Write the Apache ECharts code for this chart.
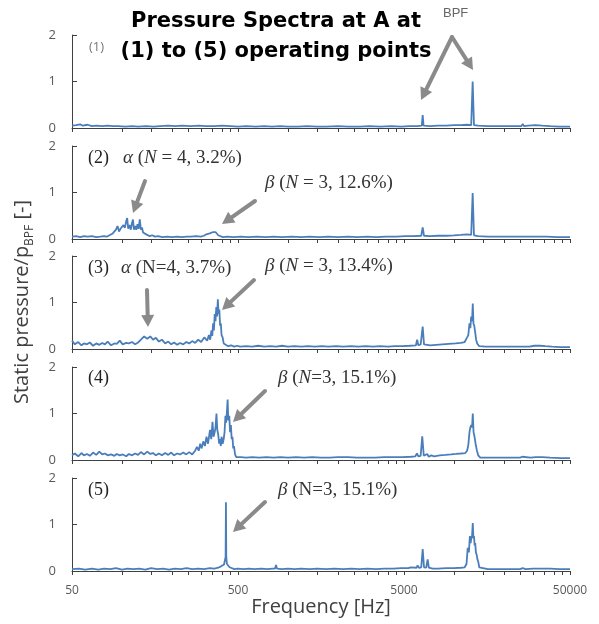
<!DOCTYPE html>
<html><head><meta charset="utf-8">
<script src="https://cdn.jsdelivr.net/npm/echarts@6/dist/echarts.min.js"></script>
<style>html,body{margin:0;padding:0;background:#fff}#c{width:599px;height:624px}</style>
</head><body><div id="c"></div>
<script>
// ---------------- data ----------------
const xMinHz = 50, xMaxHz = 50000;
const xLabelHz = [50, 500, 5000, 50000];
const xTickHz = [50,100,150,200,250,300,350,400,450,
  500,1000,1500,2000,2500,3000,3500,4000,4500,
  5000,10000,15000,20000,25000,30000,35000,40000,45000,50000];
const yTicks = [0, 1, 2];
const panelLabels = ['(1)', '(2)', '(3)', '(4)', '(5)'];

// [frequency Hz, p/p_BPF]
const spectrum1 = [[50,0.05],[53,0.06],[56,0.08],[58,0.05],[62,0.07],[66,0.04],[70,0.05],[76,0.04],[82,0.05],[88,0.04],[95,0.04],[105,0.03],[115,0.04],[125,0.03],[140,0.04],[155,0.03],[170,0.04],[190,0.05],[210,0.04],[230,0.05],[260,0.04],[290,0.05],[320,0.04],[360,0.04],[400,0.05],[450,0.04],[500,0.03],[560,0.04],[640,0.03],[720,0.04],[800,0.03],[900,0.04],[1000,0.03],[1150,0.03],[1300,0.04],[1500,0.03],[1700,0.03],[2000,0.04],[2300,0.03],[2700,0.03],[3100,0.04],[3600,0.03],[4200,0.04],[4800,0.03],[5400,0.04],[6000,0.04],[6400,0.05],[6480,0.28],[6560,0.05],[7200,0.04],[8000,0.05],[9000,0.05],[10000,0.06],[11000,0.06],[12000,0.07],[12700,0.06],[12960,1.0],[13200,0.06],[14000,0.05],[16000,0.04],[18000,0.04],[21000,0.04],[24000,0.04],[25500,0.04],[25950,0.09],[26400,0.04],[28000,0.05],[31000,0.06],[34000,0.05],[38000,0.04],[43000,0.03],[50000,0.03]];

const spectrum2 = [[50,0.05],[53,0.06],[56,0.04],[59,0.06],[62,0.05],[66,0.06],[70,0.04],[74,0.05],[78,0.06],[81,0.05],[84,0.08],[86,0.07],[88,0.12],[90,0.1],[92,0.2],[94,0.28],[96,0.16],[98,0.22],[100,0.18],[102,0.3],[104,0.24],[106,0.38],[107.5,0.45],[109,0.22],[111,0.3],[113,0.2],[115,0.35],[116.5,0.42],[118,0.2],[120,0.28],[122,0.2],[124,0.32],[126,0.22],[128,0.42],[130,0.2],[132,0.25],[134,0.14],[137,0.16],[140,0.1],[143,0.12],[147,0.06],[152,0.08],[158,0.05],[165,0.06],[175,0.04],[188,0.05],[200,0.04],[215,0.05],[230,0.04],[245,0.05],[260,0.05],[280,0.06],[298,0.05],[312,0.07],[322,0.1],[330,0.08],[338,0.12],[346,0.1],[354,0.15],[360,0.13],[366,0.15],[372,0.11],[380,0.08],[390,0.05],[405,0.04],[430,0.05],[470,0.04],[520,0.05],[580,0.04],[650,0.05],[730,0.04],[820,0.05],[920,0.04],[1050,0.05],[1200,0.04],[1350,0.05],[1550,0.04],[1750,0.05],[2000,0.04],[2300,0.05],[2600,0.04],[3000,0.05],[3400,0.04],[3900,0.05],[4500,0.05],[5100,0.06],[5700,0.06],[6350,0.07],[6480,0.25],[6600,0.07],[7200,0.06],[8000,0.07],[9000,0.07],[10000,0.08],[11000,0.09],[12000,0.1],[12700,0.09],[12960,0.99],[13200,0.08],[14000,0.06],[16000,0.05],[19000,0.05],[22000,0.05],[25500,0.05],[25950,0.09],[26400,0.05],[29000,0.05],[32000,0.05],[36000,0.05],[42000,0.04],[50000,0.04]];

const spectrum3 = [[50,0.18],[52,0.1],[54.5,0.15],[57,0.08],[59,0.12],[61.5,0.1],[64,0.14],[67,0.07],[70,0.12],[73,0.09],[76,0.13],[79,0.1],[82,0.16],[86,0.08],[90,0.12],[93,0.11],[97,0.18],[101,0.1],[106,0.13],[110,0.12],[115,0.15],[120,0.1],[125,0.14],[130,0.2],[136,0.27],[142,0.22],[148,0.27],[154,0.2],[160,0.24],[167,0.16],[174,0.2],[182,0.12],[190,0.16],[198,0.1],[206,0.14],[215,0.09],[224,0.13],[234,0.1],[244,0.15],[254,0.12],[265,0.17],[276,0.13],[288,0.2],[300,0.15],[313,0.25],[326,0.18],[334,0.3],[340,0.2],[346,0.4],[350,0.28],[354,0.55],[358,0.4],[362,0.75],[366,0.6],[370,0.9],[374,0.7],[378,1.07],[382,0.75],[386,0.85],[390,0.5],[394,0.55],[398,0.3],[404,0.25],[410,0.12],[418,0.1],[436,0.06],[455,0.08],[474,0.05],[494,0.07],[515,0.05],[560,0.06],[610,0.05],[660,0.07],[720,0.05],[780,0.06],[850,0.05],[920,0.07],[1000,0.05],[1100,0.06],[1200,0.05],[1320,0.06],[1450,0.05],[1600,0.06],[1750,0.05],[1950,0.06],[2150,0.05],[2400,0.06],[2650,0.05],[2950,0.06],[3250,0.05],[3600,0.06],[4000,0.05],[4400,0.06],[4900,0.06],[5400,0.07],[5900,0.08],[6000,0.2],[6100,0.08],[6300,0.1],[6480,0.48],[6600,0.1],[6900,0.09],[7200,0.08],[7800,0.09],[8500,0.1],[9300,0.11],[10200,0.12],[11000,0.13],[11600,0.15],[12000,0.25],[12200,0.3],[12400,0.55],[12550,0.45],[12700,0.7],[12850,0.6],[12980,0.98],[13100,0.55],[13250,0.5],[13430,0.35],[13600,0.2],[13800,0.12],[14200,0.06],[15500,0.05],[17500,0.05],[20000,0.05],[23000,0.05],[25500,0.05],[25950,0.09],[26400,0.05],[28500,0.05],[30500,0.07],[33000,0.07],[35500,0.06],[39000,0.05],[44000,0.04],[50000,0.04]];

const spectrum4 = [[50,0.1],[52,0.14],[54.5,0.08],[57,0.15],[59,0.1],[61.5,0.13],[64,0.09],[67,0.16],[70,0.11],[73,0.18],[76,0.12],[79,0.14],[82,0.1],[86,0.12],[90,0.09],[93,0.13],[97,0.1],[101,0.12],[106,0.08],[110,0.13],[115,0.1],[120,0.14],[125,0.11],[130,0.17],[136,0.12],[142,0.18],[148,0.13],[154,0.15],[160,0.1],[167,0.14],[174,0.1],[182,0.15],[190,0.11],[198,0.16],[206,0.1],[215,0.14],[224,0.12],[234,0.16],[244,0.12],[254,0.17],[265,0.12],[276,0.2],[283,0.28],[290,0.2],[296,0.35],[302,0.25],[309,0.4],[316,0.3],[323,0.5],[330,0.35],[339,0.65],[345,0.45],[351,0.82],[356,0.5],[362,0.6],[366,0.7],[371,1.0],[375,0.65],[380,0.55],[385,0.35],[389,0.45],[394,0.3],[398,0.5],[404,0.35],[410,0.45],[415,0.6],[420,0.95],[424,0.8],[429,1.05],[433,1.3],[437,0.85],[443,0.95],[448,0.6],[453,0.75],[458,0.45],[463,0.5],[468,0.25],[473,0.3],[480,0.12],[488,0.06],[500,0.05],[520,0.06],[560,0.05],[610,0.06],[670,0.05],[740,0.06],[820,0.05],[900,0.06],[1000,0.05],[1120,0.06],[1250,0.05],[1400,0.06],[1580,0.05],[1780,0.05],[2000,0.06],[2300,0.06],[2600,0.05],[2950,0.05],[3350,0.05],[3800,0.06],[4300,0.06],[4900,0.06],[5500,0.07],[5850,0.08],[5980,0.14],[6100,0.08],[6300,0.09],[6440,0.51],[6580,0.09],[6900,0.13],[7050,0.07],[7300,0.1],[7600,0.08],[8200,0.1],[8900,0.11],[9600,0.12],[10300,0.13],[11000,0.14],[11700,0.15],[12000,0.2],[12200,0.32],[12400,0.6],[12550,0.7],[12700,0.75],[12850,0.7],[12980,1.0],[13120,0.6],[13300,0.5],[13500,0.35],[13750,0.2],[14000,0.1],[14400,0.05],[16000,0.05],[19000,0.05],[22000,0.05],[25000,0.05],[25800,0.07],[26400,0.05],[29000,0.05],[31000,0.06],[34000,0.06],[38000,0.05],[44000,0.04],[50000,0.04]];

const spectrum5 = [[50,0.04],[55,0.05],[60,0.03],[66,0.05],[72,0.03],[78,0.05],[85,0.04],[92,0.06],[100,0.03],[108,0.05],[117,0.04],[127,0.05],[138,0.03],[150,0.06],[163,0.04],[177,0.05],[192,0.03],[208,0.05],[226,0.04],[245,0.06],[265,0.04],[288,0.05],[312,0.04],[338,0.06],[360,0.05],[380,0.07],[395,0.1],[405,0.12],[412,0.14],[417,0.18],[421,0.3],[423,1.48],[425,0.3],[429,0.15],[436,0.12],[445,0.08],[455,0.05],[475,0.04],[500,0.05],[540,0.04],[580,0.05],[630,0.04],[690,0.05],[750,0.04],[810,0.05],[835,0.05],[847,0.13],[860,0.05],[920,0.04],[1000,0.05],[1100,0.04],[1200,0.05],[1350,0.04],[1500,0.05],[1700,0.04],[1900,0.05],[2150,0.04],[2400,0.05],[2700,0.04],[3000,0.05],[3400,0.04],[3800,0.05],[4300,0.05],[4800,0.06],[5300,0.06],[5500,0.08],[5650,0.06],[5950,0.07],[6040,0.12],[6150,0.07],[6350,0.08],[6480,0.47],[6600,0.08],[6640,0.1],[6800,0.07],[6940,0.25],[7060,0.07],[7180,0.08],[7440,0.05],[8000,0.05],[9000,0.06],[10000,0.06],[11000,0.07],[11600,0.08],[11900,0.15],[12100,0.5],[12300,0.4],[12470,0.75],[12600,0.6],[12700,0.7],[12850,0.75],[12980,1.03],[13100,0.7],[13200,0.75],[13320,0.55],[13430,0.6],[13550,0.4],[13700,0.35],[13850,0.25],[14000,0.2],[14200,0.08],[14420,0.05],[16000,0.04],[19000,0.04],[22000,0.04],[25000,0.04],[25950,0.06],[27000,0.04],[30000,0.05],[32000,0.05],[35000,0.05],[38000,0.05],[43000,0.04],[50000,0.04]];

const spectra = [spectrum1, spectrum2, spectrum3, spectrum4, spectrum5];

// ---------------- layout ----------------
const gridTops = [35, 146, 256, 367, 478];
const gridH = 93, gridL = 72, gridW = 498;
const lineColor = '#4a7ebb';
const axisColor = '#404040';
const arrowColor = '#8a8a8a';

const lg = Math.log10;
const grids = [], xAxes = [], yAxes = [], series = [];
spectra.forEach((sp, i) => {
  grids.push({left: gridL, top: gridTops[i], width: gridW, height: gridH});
  xAxes.push({
    type: 'value', gridIndex: i, min: lg(xMinHz), max: lg(xMaxHz),
    axisLine: {show: true, lineStyle: {color: axisColor, width: 1}},
    axisTick: {show: true, inside: false, length: 4, lineStyle: {color: axisColor},
      customValues: xTickHz.map(lg)},
    axisLabel: {show: false},
    splitLine: {show: false}
  });
  yAxes.push({
    type: 'value', gridIndex: i, min: yTicks[0], max: yTicks[yTicks.length - 1], interval: 1,
    axisLine: {show: true, lineStyle: {color: axisColor, width: 1}},
    axisTick: {show: true, inside: true, length: 5, lineStyle: {color: axisColor}},
    axisLabel: {color: '#595959', fontSize: 13, fontFamily: 'Open Sans', margin: 16},
    splitLine: {show: false}
  });
  series.push({
    type: 'line', xAxisIndex: i, yAxisIndex: i, showSymbol: false, symbol: 'none',
    data: sp.map(([f, v]) => [lg(f), v]),
    lineStyle: {color: lineColor, width: 1.8}, z: 3
  });
});

function arrow(x1, y1, x2, y2) {
  const dx = x2 - x1, dy = y2 - y1, L = Math.hypot(dx, dy), ux = dx / L, uy = dy / L;
  const hl = 12, hw = 6.5;
  const bx = x2 - ux * hl, by = y2 - uy * hl;
  return [
    {type: 'line', shape: {x1, y1, x2: bx + ux * 2, y2: by + uy * 2},
      style: {stroke: arrowColor, lineWidth: 4, lineCap: 'round'}, z: 10},
    {type: 'polygon', shape: {points: [[x2, y2], [bx - uy * hw, by + ux * hw], [bx + uy * hw, by - ux * hw]]},
      style: {fill: arrowColor}, z: 10}
  ];
}

const serif = 'Liberation Serif';
const richSerif = {
  r: {fontFamily: serif, fontSize: 19, fill: '#333', color: '#333'},
  i: {fontFamily: serif, fontSize: 19, fontStyle: 'italic', fill: '#333', color: '#333'}
};
function annot(x, y, text) {
  return {type: 'text', x, y, z: 11,
    style: {text, rich: richSerif, fontFamily: serif, fontSize: 19, fill: '#333',
      align: 'left', textAlign: 'left', verticalAlign: 'middle', textVerticalAlign: 'middle'}};
}
function plain(x, y, text, st) {
  return {type: 'text', x, y, z: 11,
    style: Object.assign({text, align: 'left', textAlign: 'left', verticalAlign: 'middle', textVerticalAlign: 'middle'}, st)};
}

const graphics = [
  {type: 'text', x: 276, y: 7, z: 12,
    style: {text: 'Pressure Spectra at A at\n(1) to (5) operating points',
      fontFamily: 'DejaVu Sans', fontWeight: 'bold', fontSize: 21, lineHeight: 30, fill: '#000',
      align: 'center', textAlign: 'center', verticalAlign: 'top', textVerticalAlign: 'top'}},
  plain(443, 13, 'BPF', {fontFamily: 'Liberation Sans', fontSize: 13, fill: '#666'}),
  plain(89, 47, panelLabels[0], {fontFamily: 'Open Sans', fontSize: 13, fill: '#777'}),
  plain(88, 158, panelLabels[1], {fontFamily: serif, fontSize: 18, fill: '#222'}),
  plain(88, 268, panelLabels[2], {fontFamily: serif, fontSize: 18, fill: '#222'}),
  plain(88, 378, panelLabels[3], {fontFamily: serif, fontSize: 18, fill: '#222'}),
  plain(88, 490, panelLabels[4], {fontFamily: serif, fontSize: 18, fill: '#222'}),
  annot(123, 158, '{i|α}{r| (}{i|N}{r| = 4, 3.2%)}'),
  annot(265, 183, '{i|β}{r| (}{i|N}{r| = 3, 12.6%)}'),
  annot(121, 268, '{i|α}{r| (N=4, 3.7%)}'),
  annot(265, 266, '{i|β}{r| (}{i|N}{r| = 3, 13.4%)}'),
  annot(278, 378, '{i|β}{r| (}{i|N}{r|=3, 15.1%)}'),
  annot(278, 490, '{i|β}{r| (N=3, 15.1%)}'),
  {type: 'text', x: 22, y: 302, rotation: Math.PI / 2, z: 11,
    style: {text: '{a|Static pressure/p}{b|BPF}{a| [-]}',
      rich: {a: {fontFamily: 'Open Sans', fontSize: 20, fill: '#404040', color: '#404040', lineHeight: 28, verticalAlign: 'middle'},
             b: {fontFamily: 'Open Sans', fontSize: 12, fill: '#404040', color: '#404040', lineHeight: 28, verticalAlign: 'bottom'}},
      align: 'center', textAlign: 'center', verticalAlign: 'middle', textVerticalAlign: 'middle'}},
  {type: 'text', x: 321, y: 607, z: 11,
    style: {text: 'Frequency [Hz]', fontFamily: 'Open Sans', fontSize: 20, fill: '#404040',
      align: 'center', textAlign: 'center', verticalAlign: 'middle', textVerticalAlign: 'middle'}},
  ...arrow(452, 37, 421, 100),
  ...arrow(452, 37, 473, 70),
  ...arrow(145, 181, 133, 213),
  ...arrow(255, 201, 222, 224),
  ...arrow(147, 290, 148, 327),
  ...arrow(254, 280, 222, 310),
  ...arrow(265, 391, 233, 422),
  ...arrow(265, 502, 233, 532)
];

const chart = echarts.init(document.getElementById('c'), null, {renderer: 'canvas'});
chart.setOption({
  animation: false,
  backgroundColor: '#fff',
  grid: grids, xAxis: xAxes, yAxis: yAxes, series,
  graphic: graphics
});

// x tick labels of the bottom panel, placed through the axis scale
const bottom = spectra.length - 1;
const tickLabels = xLabelHz.map(hz => {
  const p = chart.convertToPixel({xAxisIndex: bottom, yAxisIndex: bottom}, [lg(hz), yTicks[0]]);
  return {type: 'text', x: p[0], y: p[1] + 20, z: 11,
    style: {text: String(hz), fontFamily: 'Open Sans', fontSize: 12, fill: '#595959',
      align: 'center', textAlign: 'center', verticalAlign: 'middle', textVerticalAlign: 'middle'}};
});
chart.setOption({graphic: graphics.concat(tickLabels)});
</script></body></html>
